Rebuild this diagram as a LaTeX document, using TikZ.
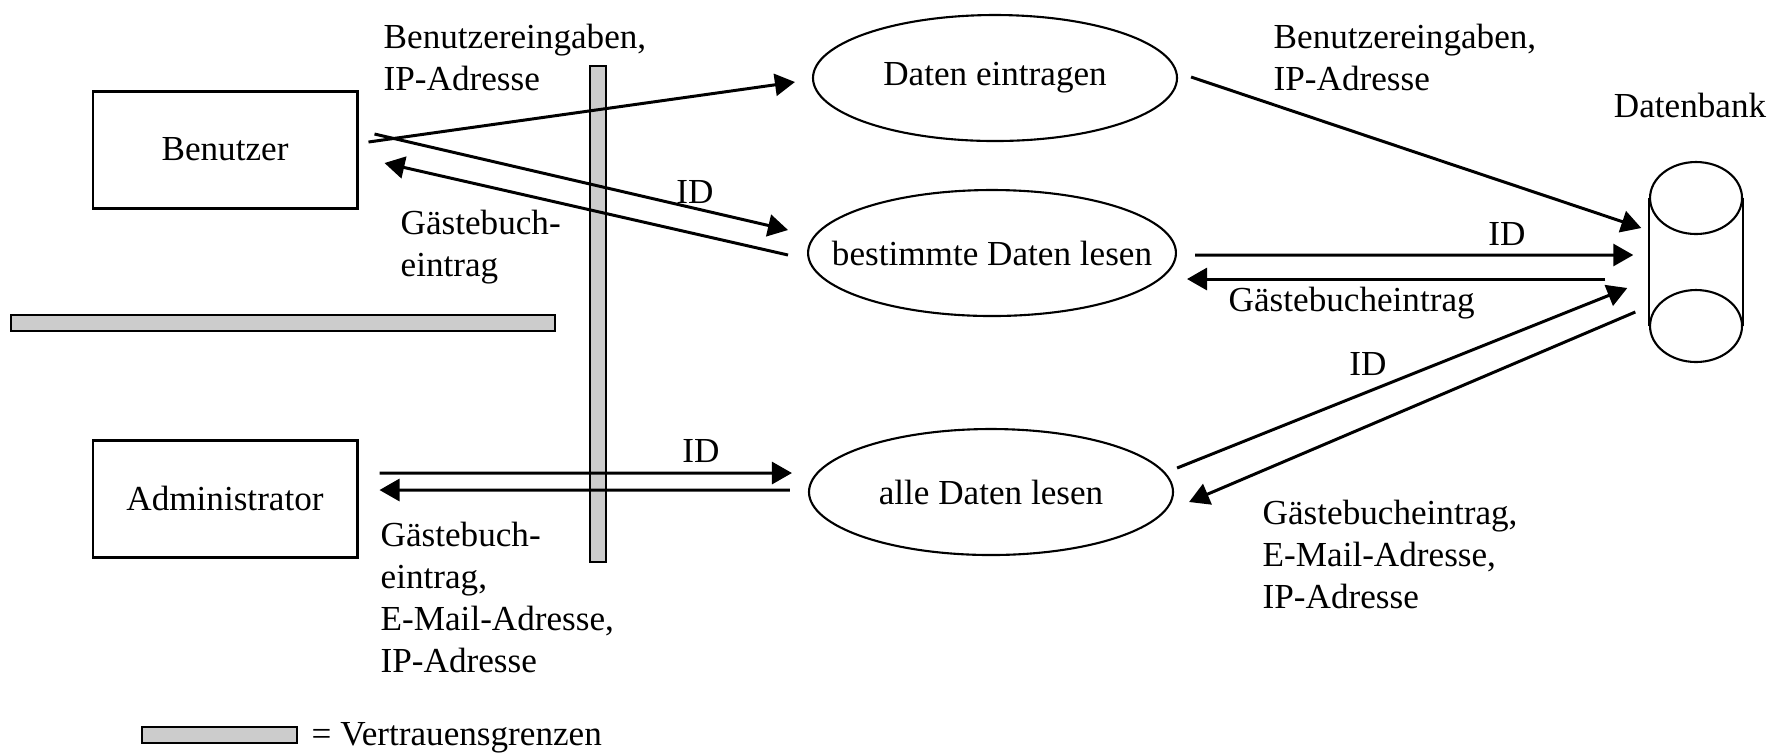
\documentclass[tikz,border=0pt]{standalone}
\usepackage{fontspec}
\setmainfont{Liberation Serif}
\usetikzlibrary{shapes.geometric,arrows.meta}

\begin{document}
\begin{tikzpicture}
    [%%%%%%%%%%%%%%%%%%%%%%%%%%%%%%
        box/.style={rectangle,draw=black,line width=0.85pt,minimum width=2.64cm,minimum height=1.17cm},
        proc/.style={ellipse,draw=black,line width=0.6pt,minimum width=3.64cm,minimum height=1.26cm,inner xsep=-3mm,inner ysep=0pt},
        flow/.style={line width=0.85pt,-{Triangle[length=2mm,width=2.2mm]}},
        grenze/.style={draw=black,line width=0.6pt,fill=gray!40},
        lbl/.style={anchor=north west,align=left,inner sep=0pt},
        dbline/.style={line width=0.6pt},
    ]%%%%%%%%%%%%%%%%%%%%%%%%%%%%%%
    \useasboundingbox (0,0) rectangle (17.79,-7.55);

    % Vertrauensgrenzen
    \draw[grenze] (5.90,-0.66) rectangle (6.06,-5.62);
    \draw[grenze] (0.11,-3.15) rectangle (5.55,-3.31);

    \node[box] (benutzer) at (2.25,-1.495) {Benutzer};
    \node[box] (admin) at (2.25,-4.985) {Administrator};

    \node[proc] (eintragen) at (9.95,-0.78) {Daten eintragen};
    \node[proc] (bestimmt) at (9.92,-2.53) {bestimmte Daten lesen};
    \node[proc] (alle) at (9.91,-4.92) {alle Daten lesen};

    % Datenbank
    \node[minimum width=0.92cm,minimum height=2cm,inner sep=0pt] (db) at (16.96,-2.62) {};
    \draw[dbline] ([yshift=6.4mm]db.center) ellipse [x radius=4.6mm,y radius=3.6mm];
    \draw[dbline] ([yshift=-6.4mm]db.center) ellipse [x radius=4.6mm,y radius=3.6mm];
    \draw[dbline] ([yshift=6.4mm]db.west) -- ([yshift=-6.4mm]db.west);
    \draw[dbline] ([yshift=6.4mm]db.east) -- ([yshift=-6.4mm]db.east);
    \node[anchor=base] (dblabel) at (16.90,-1.17) {Datenbank};

    % Benutzer
    \draw[flow] ([shift={(0.10,0.075)}]benutzer.east) -- ([shift={(-0.17,-0.04)}]eintragen.west);
    \draw[flow] ([shift={(0.16,0.155)}]benutzer.east) -- ([shift={(-0.19,0.23)}]bestimmt.west);
    \draw[flow] ([shift={(-0.19,-0.02)}]bestimmt.west) -- ([shift={(0.26,-0.135)}]benutzer.east);

    % Administrator
    \draw[flow] ([shift={(0.21,0.255)}]admin.east) -- ([shift={(-0.16,0.19)}]alle.west);
    \draw[flow] ([shift={(-0.18,0.02)}]alle.west) -- ([shift={(0.21,0.085)}]admin.east);

    % Datenbank
    \draw[flow] ([shift={(0.13,0.01)}]eintragen.east) -- ([shift={(-0.08,0.34)}]db.west);
    \draw[flow] ([shift={(0.18,-0.02)}]bestimmt.east) -- ([shift={(-0.16,0.07)}]db.west);
    \draw[flow] ([shift={(-0.44,-0.17)}]db.west) -- ([shift={(0.10,-0.26)}]bestimmt.east);
    \draw[flow] ([shift={(0.03,0.24)}]alle.east) -- ([shift={(-0.22,-0.26)}]db.west);
    \draw[flow] ([shift={(-0.14,-0.50)}]db.west) -- ([shift={(0.15,-0.10)}]alle.east);

    % Beschriftungen
    \node[lbl] (l1) at (3.83,-0.23) {Benutzereingaben,\\IP-Adresse};
    \node[lbl] (l2) at (12.73,-0.23) {Benutzereingaben,\\IP-Adresse};
    \node (l3) at (6.95,-1.92) {ID};
    \node[lbl] (l4) at (4.00,-2.09) {Gästebuch-\\eintrag};
    \node (l5) at (15.07,-2.34) {ID};
    \node[lbl] (l6) at (12.28,-2.86) {Gästebucheintrag};
    \node (l7) at (13.68,-3.64) {ID};
    \node[lbl] (l8) at (12.62,-4.99) {Gästebucheintrag,\\E-Mail-Adresse,\\IP-Adresse};
    \node (l9) at (7.01,-4.51) {ID};
    \node[lbl] (l10) at (3.80,-5.21) {Gästebuch-\\eintrag,\\E-Mail-Adresse,\\IP-Adresse};

    % Legende
    \draw[grenze] (1.42,-7.27) rectangle (2.97,-7.43);
    \node[lbl] (legende) at (3.11,-7.22) {= Vertrauensgrenzen};
\end{tikzpicture}
\end{document}
